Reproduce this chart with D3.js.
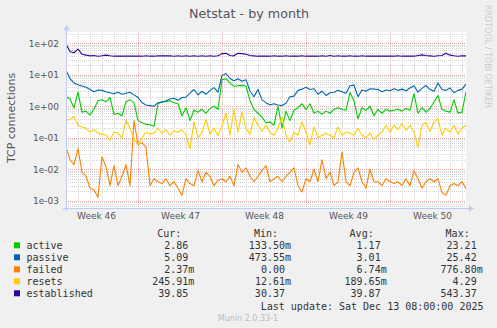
<!DOCTYPE html>
<html>
<head>
<meta charset="utf-8">
<script src="https://cdn.jsdelivr.net/npm/d3@7"></script>
<style>
html,body{margin:0;padding:0;background:#F0F0F0;}
svg{display:block;}
</style>
</head>
<body>
<svg id="chart" width="497" height="328"></svg>
<script>
// ---------- data (one point every ~8 hours) ----------
const seriesNames = ["active", "passive", "failed", "resets", "established"];
const seriesColors = ["#00CC00", "#0066B3", "#FF8000", "#FFCC00", "#330099"];

const active = [2.0,1.7,0.9,2.8,0.65,0.7,0.52,0.8,1.5,1.6,1.4,1.9,0.55,0.6,0.5,1.4,1.6,1.3,0.35,0.3,
0.27,0.26,0.23,1.2,1.4,1.4,1.5,1.3,1.2,0.5,0.9,0.35,0.75,0.65,0.8,0.6,0.85,1.0,0.8,7.0,
7.5,5.5,4.3,4.5,4.6,4.4,1.5,0.8,0.6,0.45,0.3,0.32,0.25,1.0,0.2,0.7,0.35,0.75,0.9,1.2,
0.8,1.2,0.6,0.7,0.55,0.7,0.6,0.8,0.9,0.8,0.75,2.7,1.5,0.4,0.9,0.75,1.0,0.5,0.8,0.6,
0.8,0.7,0.75,0.8,0.7,0.85,0.75,2.5,0.6,0.9,0.65,0.85,1.4,2.2,0.8,0.7,0.65,1.6,0.6,0.65,2.86];

const passive = [14,7.5,5.5,4.8,4.4,4.0,3.4,2.9,3.3,3.2,2.9,2.7,2.5,2.8,2.4,2.6,2.8,2.3,1.9,1.3,
1.1,1.05,1.0,1.3,1.35,1.5,1.7,1.8,1.55,1.9,1.95,2.6,3.4,2.3,3.0,2.4,3.2,3.9,2.8,9.5,
11,7.6,6.5,7.5,6.2,7.0,3.0,2.0,3.4,1.6,1.3,1.1,1.2,1.1,1.05,1.25,2.0,2.1,3.2,3.5,
4.0,3.4,3.6,2.4,3.0,2.2,2.7,2.8,3.2,2.9,2.6,4.5,4.7,2.0,3.3,3.0,3.6,3.5,3.4,2.9,
3.3,3.1,3.6,3.2,3.5,3.1,3.8,4.5,2.8,3.7,4.6,3.4,3.0,5.5,3.4,3.2,3.8,2.7,3.2,3.5,5.09];

const failed = [0.05,0.02,0.014,0.045,0.008,0.006,0.0025,0.0022,0.0013,0.025,0.012,0.003,0.013,0.003,0.006,0.014,0.003,0.35,0.06,0.07,
0.05,0.003,0.005,0.004,0.0035,0.005,0.003,0.004,0.0025,0.0015,0.005,0.0035,0.003,0.009,0.004,0.008,0.006,0.003,0.0045,0.005,
0.004,0.006,0.003,0.014,0.008,0.011,0.006,0.004,0.006,0.009,0.013,0.004,0.005,0.006,0.004,0.006,0.008,0.011,0.003,0.0019,
0.005,0.004,0.01,0.004,0.02,0.005,0.008,0.003,0.004,0.036,0.004,0.003,0.008,0.011,0.004,0.0025,0.01,0.004,0.004,0.003,
0.005,0.004,0.0035,0.004,0.003,0.005,0.003,0.009,0.005,0.0025,0.004,0.005,0.004,0.005,0.0018,0.0015,0.003,0.0035,0.003,0.004,0.0024];

const resets = [0.36,0.38,0.46,0.25,0.22,0.2,0.15,0.18,0.14,0.13,0.12,0.083,0.15,0.14,0.1,0.36,0.2,0.09,0.06,0.1,
0.15,0.13,0.14,0.2,0.14,0.18,0.12,0.17,0.15,0.18,0.12,0.045,0.32,0.1,0.15,0.38,0.13,0.2,0.12,0.25,
0.6,0.12,0.8,0.15,0.65,0.2,0.13,0.45,0.25,0.16,0.25,0.15,0.12,0.2,0.45,0.12,0.074,0.15,0.12,0.32,
0.15,0.06,0.22,0.1,0.12,0.14,0.12,0.1,0.22,0.12,0.15,0.14,0.12,0.2,0.12,0.1,0.14,0.09,0.12,0.15,
0.25,0.15,0.25,0.18,0.28,0.17,0.25,0.15,0.05,0.25,0.3,0.16,0.32,0.4,0.12,0.2,0.15,0.25,0.13,0.2,0.25];

const established = [95,55,50,65,45,42,40,41,39,40,42,40,39,39,39,39,39,39,39,39,
40,39,39,40,40,40,40,39,40,39,40,39,40,39,40,39,40,39,40,47,
48,41,40,48,47,45,41,40,39,39,39,39,40,39,39,40,39,39,39,40,
39,39,39,39,40,39,41,39,40,39,39,40,39,39,40,39,39,39,39,39,
39,39,39,40,39,39,39,39,41,43,41,40,39,40,41,48,42,40,39,40,39.85];

const yTickValues = [1e2, 1e1, 1, 1e-1, 1e-2, 1e-3];
const yTickLabels = ["1e+02", "1e+01", "1e+00", "1e-01", "1e-02", "1e-03"];
const weekLabels = ["Week 46", "Week 47", "Week 48", "Week 49", "Week 50"];

const curVals = ["2.86", "5.09", "2.37m", "245.91m", "39.85"];
const minVals = ["133.50m", "473.55m", "0.00", "12.61m", "30.37"];
const avgVals = ["1.17", "3.01", "6.74m", "189.65m", "39.87"];
const maxVals = ["23.21", "25.42", "776.80m", "4.29", "543.37"];

// ---------- layout ----------
const W = 497, H = 328;
const plot = {left: 66, right: 466, top: 32, bottom: 208};
const tStart = Date.UTC(2025, 10, 11, 0, 0);
const tEnd = Date.UTC(2025, 11, 14, 8, 0);

const svg = d3.select("#chart");
svg.append("rect").attr("width", W).attr("height", H).attr("fill", "#F0F0F0");

const x = d3.scaleUtc().domain([new Date(tStart), new Date(tEnd)]).range([plot.left, plot.right]);
const y = d3.scaleLog().domain([1e-3, 1e2]).range([200.7, 43.3]);

svg.append("rect").attr("x", plot.left).attr("y", plot.top)
  .attr("width", plot.right - plot.left).attr("height", plot.bottom - plot.top)
  .attr("fill", "#FFFFFF");

const defs = svg.append("defs");
defs.append("clipPath").attr("id", "clip").append("rect")
  .attr("x", plot.left).attr("y", plot.top)
  .attr("width", plot.right - plot.left).attr("height", plot.bottom - plot.top);

const grid = svg.append("g").attr("shape-rendering", "crispEdges");

// minor vertical grid: every day
const days = d3.utcDay.range(new Date(tStart), new Date(tEnd));
grid.selectAll(".vmin").data(days).join("line")
  .attr("x1", d => Math.round(x(d)) + 0.5).attr("x2", d => Math.round(x(d)) + 0.5)
  .attr("y1", plot.top).attr("y2", plot.bottom)
  .attr("stroke", "#D4D4D4").attr("stroke-dasharray", "1,1");

// minor horizontal grid: 2..9 in each decade
const minorY = [];
for (let e = -4; e <= 2; e++) for (let k = 2; k <= 9; k++) {
  const v = k * Math.pow(10, e);
  const py = y(v);
  if (py >= plot.top && py <= plot.bottom) minorY.push(v);
}
grid.selectAll(".hmin").data(minorY).join("line")
  .attr("x1", plot.left).attr("x2", plot.right)
  .attr("y1", d => Math.round(y(d)) + 0.5).attr("y2", d => Math.round(y(d)) + 0.5)
  .attr("stroke", "#D4D4D4").attr("stroke-dasharray", "1,1");

// major grid
const mondays = d3.utcMonday.range(new Date(tStart), new Date(tEnd));
grid.selectAll(".vmaj").data(mondays).join("line")
  .attr("x1", d => Math.round(x(d)) + 0.5).attr("x2", d => Math.round(x(d)) + 0.5)
  .attr("y1", plot.top).attr("y2", plot.bottom)
  .attr("stroke", "#F2A6A6").attr("stroke-dasharray", "1,1");
grid.selectAll(".hmaj").data(yTickValues).join("line")
  .attr("x1", plot.left).attr("x2", plot.right)
  .attr("y1", d => Math.round(y(d)) + 0.5).attr("y2", d => Math.round(y(d)) + 0.5)
  .attr("stroke", "#F2A6A6").attr("stroke-dasharray", "1,1");

// ---------- series ----------
const N = active.length;
const times = d3.range(N).map(i => new Date(tStart + i * (tEnd - tStart) / (N - 1)));
const allSeries = [active, passive, failed, resets, established];
const line = d3.line()
  .defined(d => d[1] > 0)
  .x(d => x(d[0])).y(d => y(d[1]));

const lines = svg.append("g").attr("clip-path", "url(#clip)");
allSeries.forEach((s, i) => {
  lines.append("path")
    .datum(s.map((v, j) => [times[j], v]))
    .attr("d", line)
    .attr("fill", "none")
    .attr("stroke", seriesColors[i])
    .attr("stroke-width", 1.1)
    .attr("stroke-linejoin", "round");
});

// ---------- axes ----------
const axisColor = "#C2CAF4";
const ax = svg.append("g");
ax.append("line").attr("x1", plot.left + 0.5).attr("x2", plot.left + 0.5)
  .attr("y1", plot.bottom + 3).attr("y2", 28).attr("stroke", axisColor);
ax.append("path").attr("d", `M${plot.left - 2.5},${30} L${plot.left + 0.5},${25} L${plot.left + 3.5},${30} Z`)
  .attr("fill", axisColor);
ax.append("line").attr("x1", plot.left - 3).attr("x2", plot.right + 4)
  .attr("y1", plot.bottom + 0.5).attr("y2", plot.bottom + 0.5).attr("stroke", axisColor);
ax.append("path").attr("d", `M${plot.right + 3},${plot.bottom - 2.5} L${plot.right + 8},${plot.bottom + 0.5} L${plot.right + 3},${plot.bottom + 3.5} Z`)
  .attr("fill", axisColor);

const yAxis = d3.axisLeft(y).tickValues(yTickValues)
  .tickFormat((d, i) => yTickLabels[i]).tickSize(0).tickPadding(7);
const gy = svg.append("g").attr("transform", `translate(${plot.left},0)`).call(yAxis);
gy.select(".domain").remove();
gy.selectAll("text").attr("font-family", "DejaVu Sans").attr("font-size", 9).attr("fill", "#555555");

const weekCenters = mondays.map(d => d3.utcDay.offset(d, -4)).concat([d3.utcDay.offset(mondays[mondays.length - 1], 3)])
  .map(d => new Date(+d + 12 * 3600 * 1000));
const xAxis = d3.axisBottom(x).tickValues(weekCenters)
  .tickFormat((d, i) => weekLabels[i]).tickSize(0).tickPadding(5);
const gx = svg.append("g").attr("transform", `translate(0,${plot.bottom})`).call(xAxis);
gx.select(".domain").remove();
gx.selectAll("text").attr("font-family", "DejaVu Sans").attr("font-size", 9).attr("fill", "#555555");

// ---------- titles ----------
svg.append("text").attr("x", 249).attr("y", 17.5).attr("text-anchor", "middle")
  .attr("font-family", "DejaVu Sans").attr("font-size", 12.7).attr("fill", "#555555")
  .text("Netstat - by month");

svg.append("text").attr("transform", "translate(15,118) rotate(-90)").attr("text-anchor", "middle")
  .attr("font-family", "DejaVu Sans").attr("font-size", 11).attr("fill", "#555555")
  .text("TCP connections");

svg.append("text").attr("transform", "translate(485,5) rotate(90)").attr("text-anchor", "start")
  .attr("font-family", "DejaVu Sans").attr("font-size", 8).attr("fill", "#CCCCCC")
  .text("RRDTOOL / TOBI OETIKER");

// ---------- legend ----------
const mono = "DejaVu Sans Mono";
const lg = svg.append("g").attr("font-family", mono).attr("font-size", 10).attr("fill", "#333333");
const cw = 6.02;
const colEnds = [194.3, 291, 386.7, 482.7];
const headers = ["Cur:", "Min:", "Avg:", "Max:"];
headers.forEach((h, i) => {
  lg.append("text").attr("x", colEnds[i] - 13).attr("y", 237.3).attr("text-anchor", "end").text(h);
});
const cols = [curVals, minVals, avgVals, maxVals];
seriesNames.forEach((name, r) => {
  const by = 249.3 + r * 12;
  lg.append("rect").attr("x", 14).attr("y", by - 7).attr("width", 6).attr("height", 6)
    .attr("fill", seriesColors[r]);
  lg.append("text").attr("x", 26.5).attr("y", by).text(name);
  cols.forEach((col, c) => {
    const s = col[r];
    const hasSuffix = /[a-zA-Z]$/.test(s);
    lg.append("text").attr("x", colEnds[c] - (hasSuffix ? 0 : cw)).attr("y", by)
      .attr("text-anchor", "end").text(s);
  });
});
lg.append("text").attr("x", 483.5).attr("y", 309.5).attr("text-anchor", "end")
  .text("Last update: Sat Dec 13 08:00:00 2025");

svg.append("text").attr("x", 248).attr("y", 320.5).attr("text-anchor", "middle")
  .attr("font-family", "DejaVu Sans").attr("font-size", 8).attr("fill", "#BBBBBB")
  .text("Munin 2.0.33-1");
</script>
</body>
</html>
